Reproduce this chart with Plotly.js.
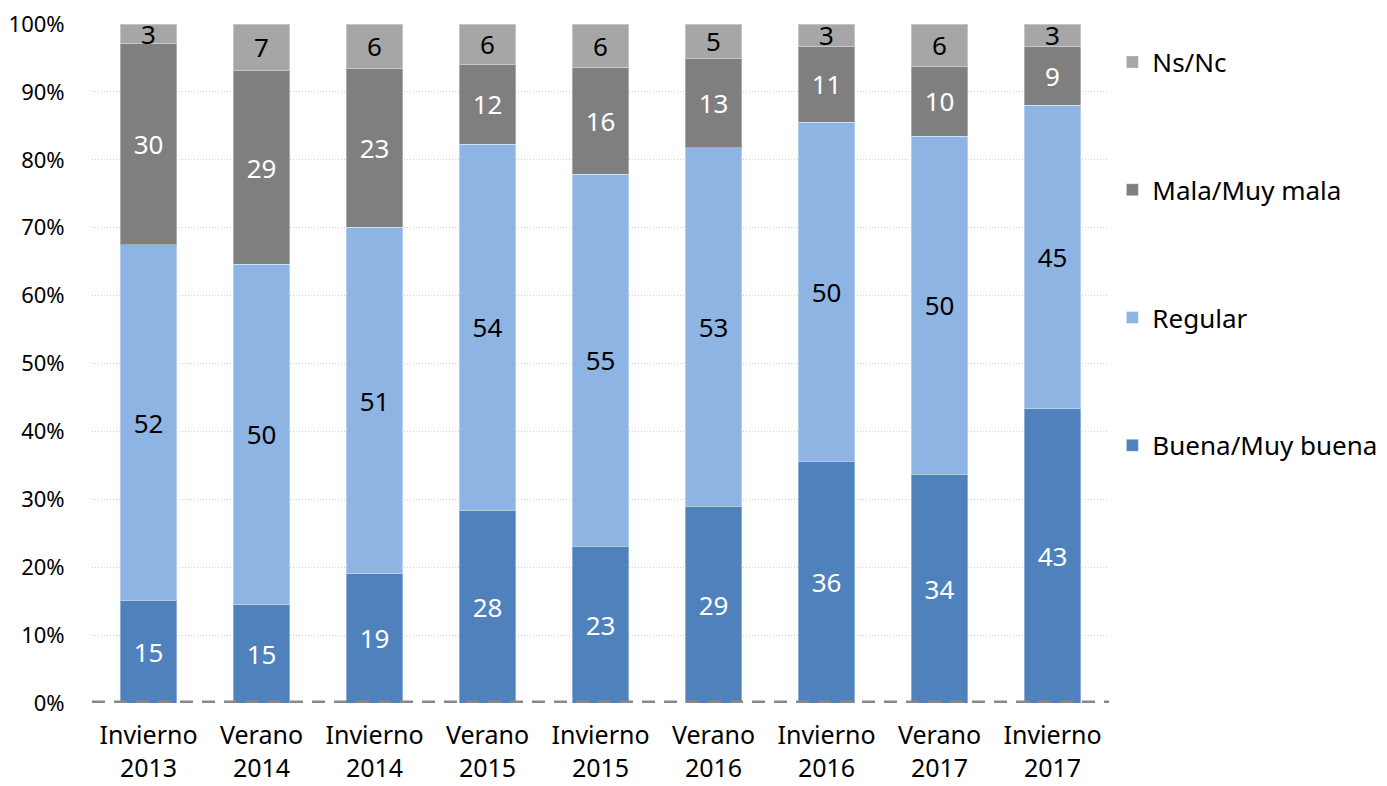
<!DOCTYPE html>
<html>
<head>
<meta charset="utf-8">
<script src="https://cdn.plot.ly/plotly-3.0.1.min.js"></script>
<style>html,body{margin:0;padding:0;background:#fff;}#chart{width:1387px;height:786px;}</style>
</head>
<body>
<div id="chart"></div>
<script>
const categories = ['Invierno<br>2013','Verano<br>2014','Invierno<br>2014','Verano<br>2015','Invierno<br>2015','Verano<br>2016','Invierno<br>2016','Verano<br>2017','Invierno<br>2017'];
const buena   = [15.1, 14.5, 19.0, 28.4, 23.1, 29.0, 35.6, 33.7, 43.3];
const regular = [52.4, 50.1, 51.1, 53.9, 54.8, 52.8, 49.9, 49.8, 44.7];
const mala    = [29.7, 28.5, 23.4, 11.8, 15.7, 13.1, 11.2, 10.3, 8.7];
const nsnc    = [2.8, 6.9, 6.5, 5.9, 6.4, 5.1, 3.3, 6.2, 3.3];
const buenaLbl   = ['15','15','19','28','23','29','36','34','43'];
const regularLbl = ['52','50','51','54','55','53','50','50','45'];
const malaLbl    = ['30','29','23','12','16','13','11','10','9'];
const nsncLbl    = ['3','7','6','6','6','5','3','6','3'];
const seriesNames = ['Buena/Muy buena','Regular','Mala/Muy mala','Ns/Nc'];
const tickVals = [0,10,20,30,40,50,60,70,80,90,100];

const FONT = 'Noto Sans, DejaVu Sans, sans-serif';
function mk(name, y, txt, color, tcolor, grp, rank){
  return {
    type:'bar', name:name, x:categories, y:y, text:txt,
    textposition:'inside', insidetextanchor:'middle', textangle:0, constraintext:'none',
    insidetextfont:{family:FONT, size:26, color:tcolor},
    marker:{color:color, line:{color:'rgba(255,255,255,0.35)', width:1}},
    legendgroup:grp, legendrank:rank, hoverinfo:'skip'
  };
}
const data = [
  mk(seriesNames[0], buena, buenaLbl, '#4f81bd', '#ffffff', 'g4', 4),
  mk(seriesNames[1], regular, regularLbl, '#8eb4e3', '#000000', 'g3', 3),
  mk(seriesNames[2], mala, malaLbl, '#7f7f7f', '#ffffff', 'g2', 2),
  mk(seriesNames[3], nsnc, nsncLbl, '#a6a6a6', '#000000', 'g1', 1)
];
const layout = {
  width:1387, height:786,
  margin:{l:92, r:278, t:24, b:83, pad:0},
  barmode:'stack', bargap:0.5,
  paper_bgcolor:'#ffffff', plot_bgcolor:'#ffffff',
  font:{family:FONT, color:'#000000'},
  showlegend:true,
  legend:{xref:'container', yref:'container', x:0.802, y:0.951, xanchor:'left', yanchor:'top',
    traceorder:'grouped', tracegroupgap:91, maxheight:700, font:{family:FONT, size:26, color:'#000'},
    itemclick:false, itemdoubleclick:false},
  xaxis:{type:'category', showgrid:false, zeroline:false, showline:false,
    ticks:'outside', ticklen:10, tickcolor:'rgba(0,0,0,0)',
    tickfont:{family:FONT, size:25, color:'#000'}},
  yaxis:{range:[0,100], tickvals:tickVals, ticktext:tickVals.map(v=>v+'%'),
    showgrid:true, gridcolor:'#cccccc', griddash:'1px,2px', gridwidth:1,
    zeroline:false, showline:false, ticks:'outside', ticklen:22, tickcolor:'rgba(0,0,0,0)',
    tickfont:{family:FONT, size:22, color:'#000'}},
  shapes:[{type:'line', xref:'paper', yref:'y', x0:0, x1:1, y0:0, y1:0,
    line:{color:'#888888', width:5, dash:'13px,9px'}, layer:'above'}]
};
Plotly.newPlot('chart', data, layout, {staticPlot:true, displayModeBar:false});
</script>
</body>
</html>
